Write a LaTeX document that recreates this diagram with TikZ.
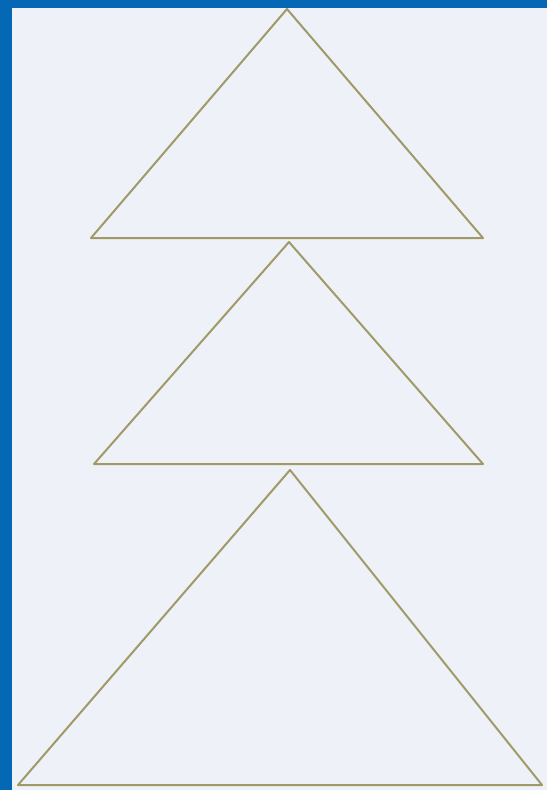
\documentclass[tikz,border=0pt]{standalone}
\usepackage{tikz}
\definecolor{frameblue}{HTML}{0468B4}
\definecolor{panel}{HTML}{EEF2F8}
\definecolor{edge}{HTML}{A09A68}
\begin{document}
\begin{tikzpicture}[x=1pt, y=-1pt, tri/.style={draw=edge, line width=2pt, line join=round}]
  % Frame and panel
  \fill[frameblue] (0,0) rectangle (547,790);
  \fill[panel] (12,8) rectangle (547,790);
  \useasboundingbox (0,0) rectangle (547,790);
  % Top triangle
  \draw[tri] (287,9) -- (483,238) -- (91,238) -- cycle;
  % Middle triangle
  \draw[tri] (289,242) -- (483,464) -- (94,464) -- cycle;
  % Bottom triangle
  \draw[tri] (290,470) -- (542,785) -- (18,785) -- cycle;
\end{tikzpicture}
\end{document}
